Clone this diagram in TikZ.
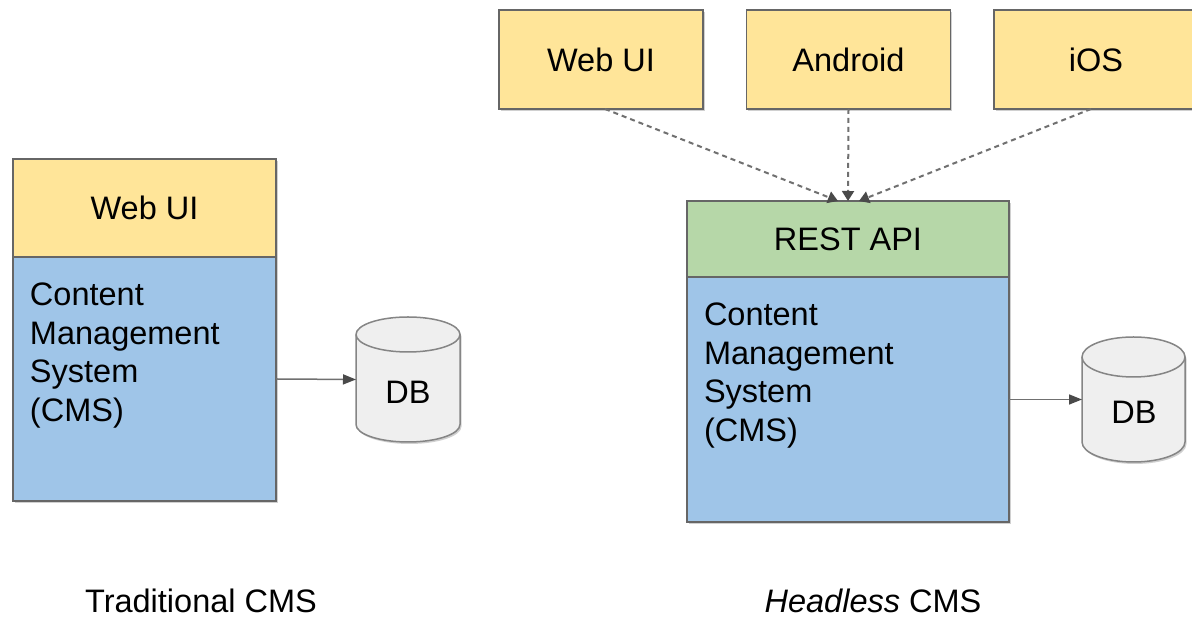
\documentclass[tikz,border=0pt]{standalone}
\usepackage{fontspec}
\setmainfont{Liberation Sans}
\usetikzlibrary{arrows.meta,shadows,calc}

\definecolor{uiyellow}{HTML}{FFE599}
\definecolor{cmsblue}{HTML}{9FC5E8}
\definecolor{apigreen}{HTML}{B6D7A8}
\definecolor{dbgray}{HTML}{EFEFEF}
\definecolor{edgegray}{HTML}{666666}
\definecolor{linkgray}{HTML}{707070}
\definecolor{tipgray}{HTML}{4A4A4A}

\tikzset{
  boxshadow/.style={drop shadow={shadow xshift=1.5pt,shadow yshift=-2pt,opacity=0.3,fill=black!60}},
  block/.style={draw=edgegray,line width=1.5pt,inner sep=0pt,outer sep=0pt,
                font=\fontsize{32.5}{38.5}\selectfont,boxshadow},
  uibox/.style={block,fill=uiyellow},
  cmsbox/.style={block,fill=cmsblue},
  apibox/.style={block,fill=apigreen},
  bodytext/.style={inner sep=0pt,outer sep=0pt,align=left,anchor=north west,
                   font=\fontsize{32.5}{38.5}\selectfont},
  dbframe/.style={inner sep=0pt,outer sep=0pt,draw=none},
  dbshape/.style={draw=edgegray!80,line width=1.5pt,fill=dbgray},
  dblabel/.style={inner sep=0pt,font=\fontsize{32.5}{38.5}\selectfont},
  caption/.style={inner sep=0pt,anchor=base,font=\fontsize{32.5}{38.5}\selectfont},
  storelink/.style={draw=linkgray,line width=1.5pt,
                    -{Triangle[length=13pt,width=10pt,color=tipgray]}},
  calllink/.style={draw=linkgray,line width=2pt,dash pattern=on 5pt off 4pt,
                   -{Triangle[length=10pt,width=12pt,color=tipgray]}}
}

% cylinder drawn around a named frame node: #1 = node, #2 = x radius, #3 = y radius
\newcommand{\dbdrum}[3]{%
  \draw[dbshape,boxshadow] ([yshift=-#3]#1.north west) -- ([yshift=#3]#1.south west)
     arc[start angle=180,end angle=360,x radius=#2,y radius=#3]
     -- ([yshift=-#3]#1.north east)
     arc[start angle=0,end angle=180,x radius=#2,y radius=#3] -- cycle;
  \draw[dbshape,fill=none] ([yshift=-#3]#1.north west)
     arc[start angle=180,end angle=360,x radius=#2,y radius=#3];
}

\begin{document}
\begin{tikzpicture}[x=1pt,y=1pt]
  \clip (0,0) rectangle (1192,620);
  \fill[white] (0,0) rectangle (1192,620);

  % ---------- traditional CMS ----------
  \node[uibox,minimum width=263pt,minimum height=98pt] (webL) at (144.5,412) {Web UI};
  \node[cmsbox,minimum width=263pt,minimum height=244pt] (cmsL) at (144.5,241) {};
  \node[bodytext] (cmsTextL) at (30,337) {Content\\Management\\System\\(CMS)};

  \node[dbframe,minimum width=104pt,minimum height=125pt] (dbL) at (408,240.5) {};
  \dbdrum{dbL}{52pt}{17.5pt}
  \node[dblabel] (dbTextL) at (408,228) {DB};
  \draw[storelink] (cmsL.east) -- (dbL.west);

  \node[caption] (capL) at (201,7) {Traditional CMS};

  % ---------- headless CMS ----------
  \node[uibox,minimum width=204pt,minimum height=99pt] (webR) at (601,560.5) {Web UI};
  \node[uibox,minimum width=204pt,minimum height=99pt] (android) at (848.5,560.5) {Android};
  \node[uibox,minimum width=204pt,minimum height=99pt] (ios) at (1096,560.5) {iOS};

  \node[apibox,minimum width=322pt,minimum height=76pt] (rest) at (848,381) {REST API};
  \node[cmsbox,minimum width=322pt,minimum height=245pt] (cmsR) at (848,220.5) {};
  \node[bodytext] (cmsTextR) at (704,317) {Content\\Management\\System\\(CMS)};

  \node[dbframe,minimum width=103pt,minimum height=125pt] (dbR) at (1133.5,220.5) {};
  \dbdrum{dbR}{51.5pt}{20pt}
  \node[dblabel] (dbTextR) at (1134,208) {DB};
  \draw[storelink] (cmsR.east) -- (dbR.west);

  \draw[calllink] ([xshift=4pt]webR.south) -- ([xshift=-10pt]rest.north);
  \draw[calllink] (android.south) -- (rest.north);
  \draw[calllink] ([xshift=-5pt]ios.south) -- ([xshift=11pt]rest.north);

  \node[caption] (capR) at (873,7) {\textit{Headless} CMS};
\end{tikzpicture}
\end{document}
